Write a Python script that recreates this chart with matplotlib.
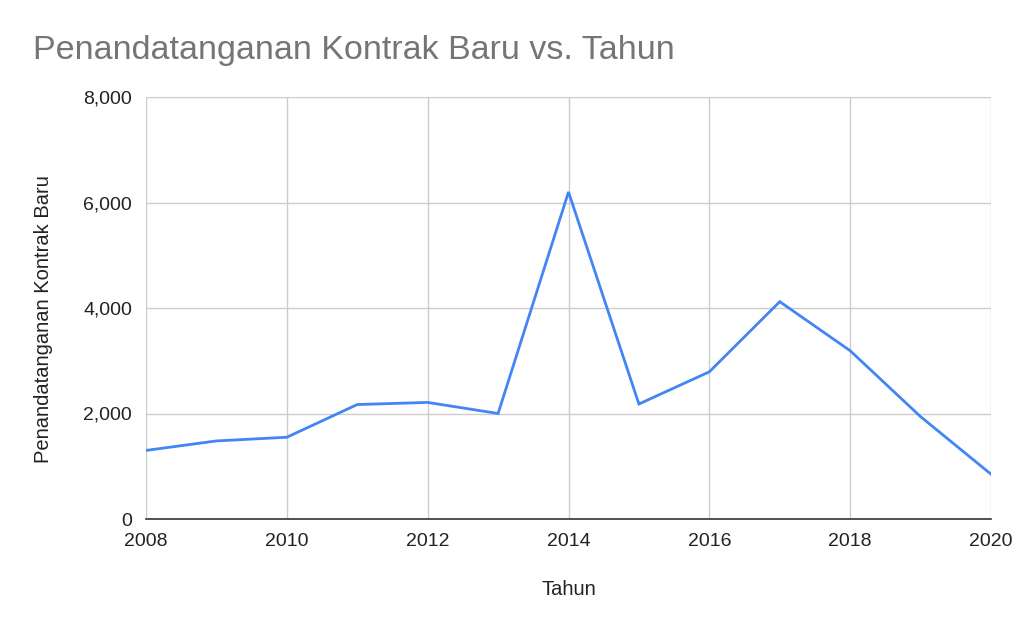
import matplotlib
matplotlib.use("Agg")
import matplotlib.pyplot as plt
from matplotlib.ticker import FuncFormatter

years = [2008, 2009, 2010, 2011, 2012, 2013, 2014, 2015, 2016, 2017, 2018, 2019, 2020]
values = [1300, 1480, 1550, 2170, 2210, 2000, 6200, 2180, 2790, 4120, 3190, 1940, 850]
x_ticks = [2008, 2010, 2012, 2014, 2016, 2018, 2020]
y_ticks = [0, 2000, 4000, 6000, 8000]

plt.rcParams['font.family'] = ['Liberation Sans', 'DejaVu Sans']

fig = plt.figure(figsize=(10.24, 6.33), dpi=100)
ax = fig.add_axes([146/1024, 1 - 519/633, (991-146)/1024, (519-97)/633])

ax.plot(years, values, color='#4285F4', linewidth=2.0, solid_joinstyle='miter', zorder=3)

ax.set_xlim(2008, 2020)
ax.set_ylim(0, 8000)
ax.set_xticks(x_ticks)
ax.set_yticks(y_ticks)
ax.yaxis.set_major_formatter(FuncFormatter(lambda v, p: f"{int(v):,}"))
ax.grid(True, color='#cccccc', linewidth=1.0, zorder=0)
ax.set_axisbelow(True)
for s in ['top', 'right', 'left']:
    ax.spines[s].set_visible(False)
ax.spines['bottom'].set_color('#333333')
ax.spines['bottom'].set_linewidth(1.2)
ax.spines['bottom'].set_zorder(4)
ax.tick_params(axis='both', length=0, labelsize=14, colors='#222222')
ax.tick_params(axis='x', pad=10)
ax.tick_params(axis='y', pad=10)

ax.set_xlabel('Tahun', fontsize=14.5, color='#222222', labelpad=22)
ax.set_ylabel('Penandatanganan Kontrak Baru', fontsize=14.5, color='#222222', labelpad=22)
ax.yaxis.label.set_y(0.474)

fig.text(33/1024, 1 - 59/633, 'Penandatanganan Kontrak Baru vs. Tahun', fontsize=24.5,
         color='#757575', ha='left', va='baseline')

fig.savefig('out.png', dpi=100, facecolor='white')
